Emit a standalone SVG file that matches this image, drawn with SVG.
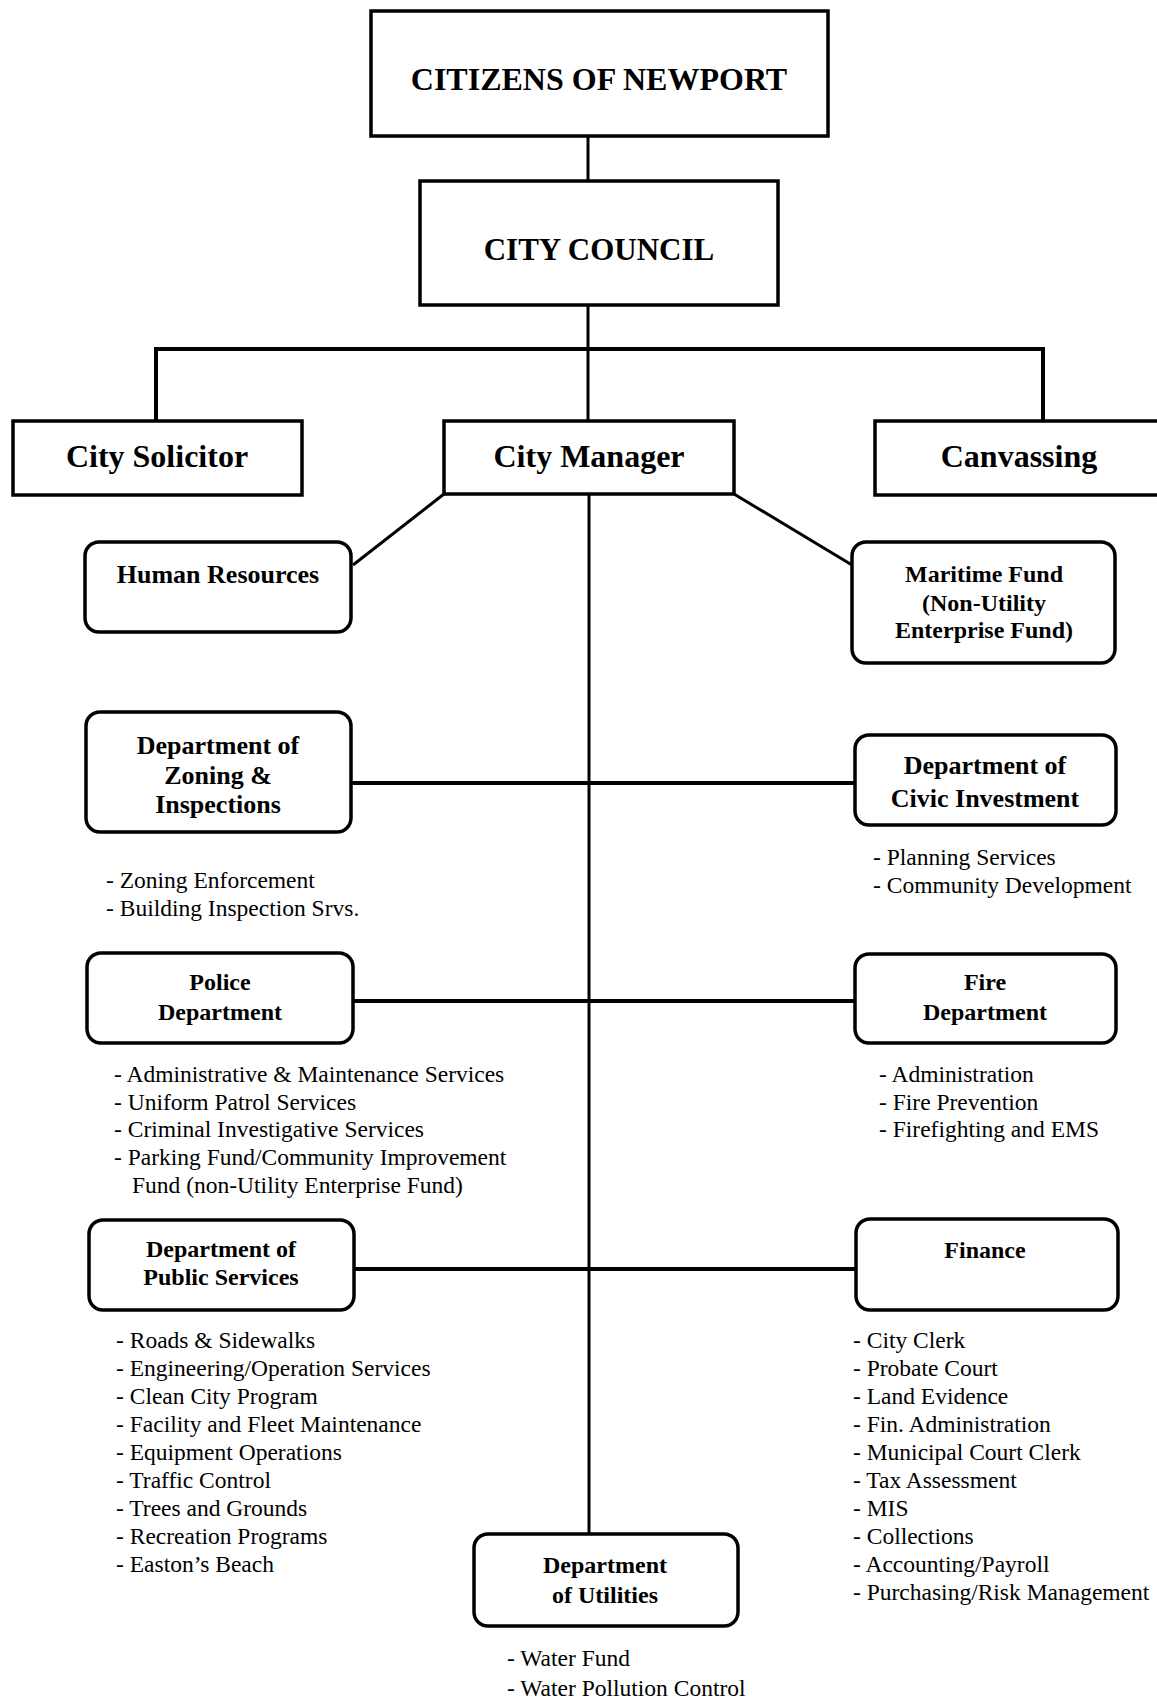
<svg xmlns="http://www.w3.org/2000/svg" width="1157" height="1702" viewBox="0 0 1157 1702">
<style>
.box{fill:#fff;stroke:#000;stroke-width:3.5}
.t{font-family:"Liberation Serif","Times New Roman",serif;font-weight:bold;text-anchor:middle;fill:#000}
.l{font-family:"Liberation Serif","Times New Roman",serif;font-size:23.5px;fill:#000}
.c{stroke:#000;stroke-width:3;fill:none}
.ct{stroke:#000;stroke-width:4;fill:none}
</style>
<rect width="1157" height="1702" fill="#fff"/>
<g id="connectors">
<line class="c" x1="588" y1="136" x2="588" y2="181"/>
<line class="c" x1="588" y1="305" x2="588" y2="421"/>
<polyline class="ct" points="156,421 156,349 1043,349 1043,421"/>
<line class="c" x1="444" y1="494" x2="353" y2="565"/>
<line class="c" x1="734" y1="494" x2="852" y2="565"/>
<line class="c" x1="589" y1="494" x2="589" y2="1534"/>
<line class="ct" x1="351" y1="783" x2="855" y2="783"/>
<line class="ct" x1="353" y1="1001" x2="855" y2="1001"/>
<line class="ct" x1="354" y1="1269" x2="856" y2="1269"/>
</g>
<g id="citizens">
<rect class="box" x="371" y="11" width="457" height="125"/>
<text class="t" x="599" y="90" font-size="32">CITIZENS OF NEWPORT</text>
</g>
<g id="council">
<rect class="box" x="420" y="181" width="358" height="124"/>
<text class="t" x="599" y="260" font-size="31">CITY COUNCIL</text>
</g>
<g id="solicitor">
<rect class="box" x="13" y="421" width="289" height="74"/>
<text class="t" x="157" y="467" font-size="32">City Solicitor</text>
</g>
<g id="manager">
<rect class="box" x="444" y="421" width="290" height="73"/>
<text class="t" x="589" y="467" font-size="32">City Manager</text>
</g>
<g id="canvassing">
<rect class="box" x="875" y="421" width="300" height="74"/>
<text class="t" x="1019" y="467" font-size="32">Canvassing</text>
</g>
<g id="hr">
<rect class="box" x="85" y="542" width="266" height="90" rx="14"/>
<text class="t" x="218" y="583" font-size="26">Human Resources</text>
</g>
<g id="maritime">
<rect class="box" x="852" y="542" width="263" height="121" rx="14"/>
<text class="t" x="984" y="582" font-size="24">Maritime Fund</text>
<text class="t" x="984" y="611" font-size="24">(Non-Utility</text>
<text class="t" x="984" y="638" font-size="24">Enterprise Fund)</text>
</g>
<g id="zoning">
<rect class="box" x="86" y="712" width="265" height="120" rx="14"/>
<text class="t" x="218" y="754" font-size="26">Department of</text>
<text class="t" x="218" y="784" font-size="26">Zoning &amp;</text>
<text class="t" x="218" y="813" font-size="26">Inspections</text>
<text class="l" x="106" y="888">- Zoning Enforcement</text>
<text class="l" x="106" y="916">- Building Inspection Srvs.</text>
</g>
<g id="civic">
<rect class="box" x="855" y="735" width="261" height="90" rx="14"/>
<text class="t" x="985" y="774" font-size="26">Department of</text>
<text class="t" x="985" y="807" font-size="26">Civic Investment</text>
<text class="l" x="873" y="865">- Planning Services</text>
<text class="l" x="873" y="893">- Community Development</text>
</g>
<g id="police">
<rect class="box" x="87" y="953" width="266" height="90" rx="14"/>
<text class="t" x="220" y="990" font-size="24">Police</text>
<text class="t" x="220" y="1020" font-size="24">Department</text>
<text class="l" x="114" y="1082">- Administrative &amp; Maintenance Services</text>
<text class="l" x="114" y="1110">- Uniform Patrol Services</text>
<text class="l" x="114" y="1137">- Criminal Investigative Services</text>
<text class="l" x="114" y="1165">- Parking Fund/Community Improvement</text>
<text class="l" x="132" y="1193">Fund (non-Utility Enterprise Fund)</text>
</g>
<g id="fire">
<rect class="box" x="855" y="954" width="261" height="89" rx="14"/>
<text class="t" x="985" y="990" font-size="24">Fire</text>
<text class="t" x="985" y="1020" font-size="24">Department</text>
<text class="l" x="879" y="1082">- Administration</text>
<text class="l" x="879" y="1110">- Fire Prevention</text>
<text class="l" x="879" y="1137">- Firefighting and EMS</text>
</g>
<g id="public">
<rect class="box" x="89" y="1220" width="265" height="90" rx="14"/>
<text class="t" x="221" y="1257" font-size="24">Department of</text>
<text class="t" x="221" y="1285" font-size="24">Public Services</text>
<text class="l" x="116" y="1348">- Roads &amp; Sidewalks</text>
<text class="l" x="116" y="1376">- Engineering/Operation Services</text>
<text class="l" x="116" y="1404">- Clean City Program</text>
<text class="l" x="116" y="1432">- Facility and Fleet Maintenance</text>
<text class="l" x="116" y="1460">- Equipment Operations</text>
<text class="l" x="116" y="1488">- Traffic Control</text>
<text class="l" x="116" y="1516">- Trees and Grounds</text>
<text class="l" x="116" y="1544">- Recreation Programs</text>
<text class="l" x="116" y="1572">- Easton’s Beach</text>
</g>
<g id="finance">
<rect class="box" x="856" y="1219" width="262" height="91" rx="14"/>
<text class="t" x="985" y="1258" font-size="24">Finance</text>
<text class="l" x="853" y="1348">- City Clerk</text>
<text class="l" x="853" y="1376">- Probate Court</text>
<text class="l" x="853" y="1404">- Land Evidence</text>
<text class="l" x="853" y="1432">- Fin. Administration</text>
<text class="l" x="853" y="1460">- Municipal Court Clerk</text>
<text class="l" x="853" y="1488">- Tax Assessment</text>
<text class="l" x="853" y="1516">- MIS</text>
<text class="l" x="853" y="1544">- Collections</text>
<text class="l" x="853" y="1572">- Accounting/Payroll</text>
<text class="l" x="853" y="1600">- Purchasing/Risk Management</text>
</g>
<g id="utilities">
<rect class="box" x="474" y="1534" width="264" height="92" rx="14"/>
<text class="t" x="605" y="1573" font-size="24">Department</text>
<text class="t" x="605" y="1603" font-size="24">of Utilities</text>
<text class="l" x="507" y="1666">- Water Fund</text>
<text class="l" x="507" y="1696">- Water Pollution Control</text>
</g>
</svg>
